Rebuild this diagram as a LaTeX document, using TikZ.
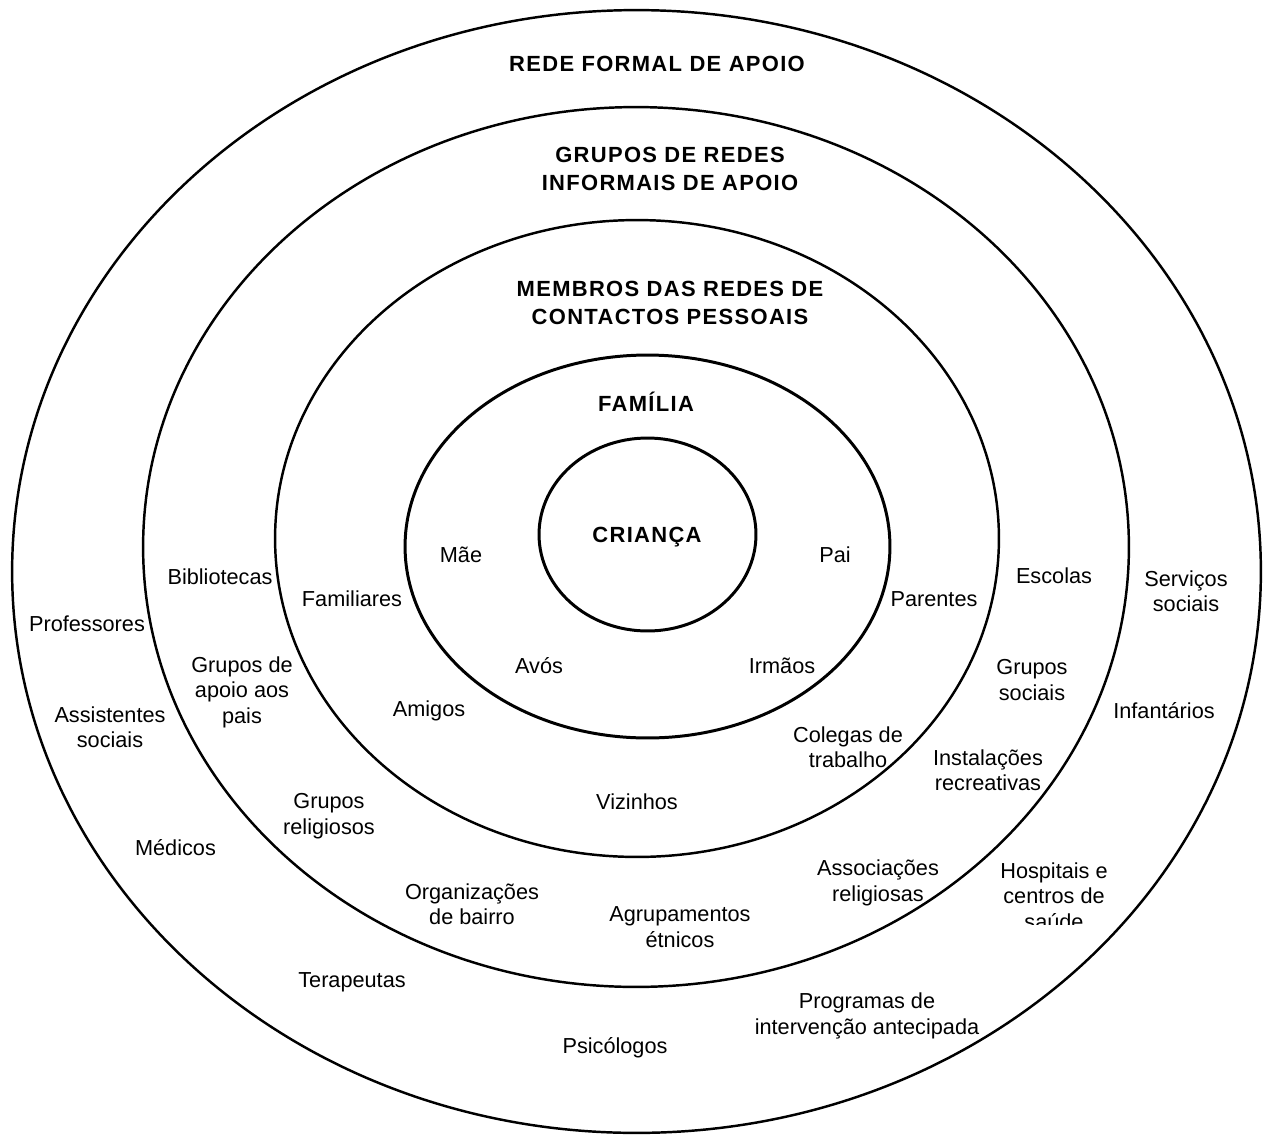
\documentclass[tikz,border=0pt]{standalone}
\usepackage{fontspec}
\setmainfont{Liberation Sans}
\newfontfamily\hdrfont[LetterSpace=6]{Liberation Sans}
\begin{document}
\begin{tikzpicture}[x=0.02cm, y=-0.02cm,
  ring/.style={line width=1.4pt},
  core/.style={line width=1.7pt},
  lbl/.style={align=center, inner sep=0pt, font=\fontsize{12.35}{14.5}\selectfont},
  hdr/.style={align=center, inner sep=0pt, font=\hdrfont\bfseries\fontsize{12.5}{15.9}\selectfont}]

\fill[white] (0,0) rectangle (1264,1136);
\useasboundingbox (0,0) rectangle (1264,1136);

% nested rings of the support network
\draw[ring] (636.5,571.5) ellipse [x radius=12.49cm, y radius=11.23cm];
\draw[ring] (636,547) ellipse [x radius=9.86cm, y radius=8.80cm];
\draw[ring] (637,538.5) ellipse [x radius=7.24cm, y radius=6.37cm];
\draw[core] (647.5,546.5) ellipse [x radius=4.85cm, y radius=3.83cm];
\draw[core] (647.5,534.5) ellipse [x radius=2.17cm, y radius=1.93cm];

% ring titles
\node[hdr] (rede) at (657,64) {REDE FORMAL DE APOIO};
\node[hdr] (grupos) at (670,168.5) {GRUPOS DE REDES\\INFORMAIS DE APOIO};
\node[hdr] (membros) at (670,302.5) {MEMBROS DAS REDES DE\\CONTACTOS PESSOAIS};
\node[hdr] (familia) at (646,401.5) {FAMÍLIA};
\node[hdr] (crianca) at (647,537) {CRIANÇA};

% family
\node[lbl] (mae) at (461,555) {Mãe};
\node[lbl] (pai) at (835,555) {Pai};
\node[lbl] (avos) at (539,666) {Avós};
\node[lbl] (irmaos) at (782,666) {Irmãos};

% personal contacts
\node[lbl] (familiares) at (352,599) {Familiares};
\node[lbl] (parentes) at (934,599) {Parentes};
\node[lbl] (amigos) at (429,711) {Amigos};
\node[lbl] (colegas) at (848,747) {Colegas de\\trabalho};
\node[lbl] (vizinhos) at (637,802) {Vizinhos};

% informal groups
\node[lbl] (bibliotecas) at (220,577) {Bibliotecas};
\node[lbl] (escolas) at (1054,576) {Escolas};
\node[lbl] (apoiopais) at (242,692) {Grupos de\\apoio aos\\pais};
\node[lbl] (gsociais) at (1032,680) {Grupos\\sociais};
\node[lbl] (instalacoes) at (988,770) {Instalações\\recreativas};
\node[lbl] (greligiosos) at (329,816) {Grupos\\religiosos};
\node[lbl] (organizacoes) at (472,904) {Organizações\\de bairro};
\node[lbl] (agrupamentos) at (680,927) {Agrupamentos\\étnicos};
\node[lbl] (associacoes) at (878,883) {Associações\\religiosas};

% formal network
\node[lbl] (professores) at (87,624) {Professores};
\node[lbl] (servicos) at (1186,591) {Serviços\\sociais};
\node[lbl] (assistentes) at (110,727) {Assistentes\\sociais};
\node[lbl] (infantarios) at (1164,711) {Infantários};
\node[lbl] (medicos) at (175.5,848) {Médicos};
\begin{scope}
  % the last line of this label is cut off at its foot
  \clip (980,850) rectangle (1130,924);
  \node[lbl] (hospitais) at (1054,896) {Hospitais e\\centros de\\saúde};
\end{scope}
\node[lbl] (terapeutas) at (352,982) {Terapeutas};
\node[lbl] (psicologos) at (615,1048) {Psicólogos};
\node[lbl] (programas) at (867,1016) {Programas de\\intervenção antecipada};

\end{tikzpicture}
\end{document}
